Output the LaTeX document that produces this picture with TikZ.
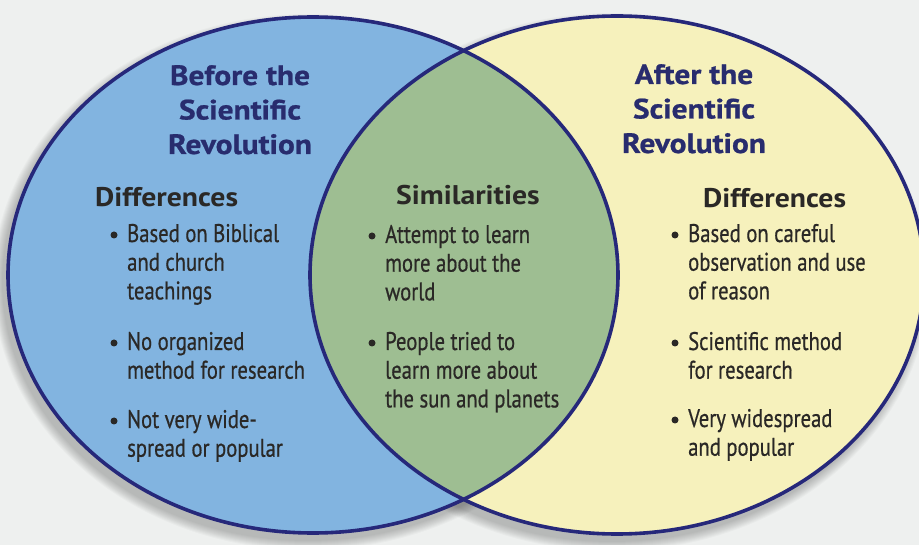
\documentclass[tikz,border=0pt]{standalone}
\usepackage{fontspec}
\setmainfont{PT Sans}
\newfontfamily\bodyfont{PT Sans}[FakeStretch=0.81, FakeBold=0.6]
\newfontfamily\headfont{PT Sans Bold}[FakeStretch=1.1]
\newfontfamily\titlefont{PT Sans Bold}[FakeStretch=1.12, FakeBold=0.8]
\definecolor{bgc}{RGB}{238,240,239}
\definecolor{lblue}{RGB}{130,180,224}
\definecolor{lyellow}{RGB}{246,241,188}
\definecolor{lgreen}{RGB}{158,190,146}
\definecolor{navy}{RGB}{38,40,122}
\definecolor{tnavy}{RGB}{40,44,110}
\definecolor{ink}{RGB}{42,40,38}
\newcommand{\leftlines}[1]{\vtop{\halign{##\hfil\cr#1\crcr}}}
\newcommand{\centerlines}[1]{\vtop{\halign{\hfil##\hfil\cr#1\crcr}}}
\tikzset{
  titletext/.style={font=\titlefont\fontsize{28}{34.5}\selectfont, text=tnavy, inner sep=0pt, anchor=base},
  headtext/.style={font=\headfont\fontsize{27}{30}\selectfont, text=ink, inner sep=0pt, anchor=base west},
  itemtext/.style={font=\bodyfont\fontsize{25.5}{28.7}\selectfont, text=ink, inner sep=0pt, anchor=base west},
  bul/.style={circle, fill=ink, minimum size=7pt, inner sep=0pt},
  outline/.style={draw=navy, line width=3.6pt}
}
\begin{document}
\begin{tikzpicture}[x=1pt,y=-1pt]
\fill[bgc] (0,0) rectangle (919,545);
\useasboundingbox (0,0) rectangle (919,545);
% soft shadow
\foreach \i in {1,...,10}{
  \fill[black, opacity=0.025] (308,282) ellipse [x radius={305pt+\i pt}, y radius={258pt+\i pt}];
  \fill[black, opacity=0.025] (612,282) ellipse [x radius={307pt+\i pt}, y radius={259pt+\i pt}];
}
\coordinate (cl) at (313,275);
\coordinate (cr) at (617,275);
\fill[lblue] (cl) ellipse [x radius=305pt, y radius=258pt];
\fill[lyellow] (cr) ellipse [x radius=307pt, y radius=259pt];
\begin{scope}
  \clip (cl) ellipse [x radius=305pt, y radius=258pt];
  \fill[lgreen] (cr) ellipse [x radius=307pt, y radius=259pt];
\end{scope}
\draw[outline] (cl) ellipse [x radius=305pt, y radius=258pt];
\draw[outline] (cr) ellipse [x radius=307pt, y radius=259pt];

% titles
\node[titletext] (tl) at (240,85) {\centerlines{Before the\cr Scientific\cr Revolution}};
\node[titletext] (tr) at (694,84) {\centerlines{After the\cr Scientific\cr Revolution}};

% headings
\node[headtext] (hl) at (95,207) {Differences};
\node[headtext] (hm) at (396,205) {Similarities};
\node[headtext] (hr) at (703,208) {Differences};

% left items
\node[itemtext] (l1) at (127,242) {\leftlines{Based on Biblical\cr and church\cr teachings}};
\node[itemtext] (l2) at (127,350) {\leftlines{No organized\cr method for research}};
\node[itemtext] (l3) at (127,428) {\leftlines{Not very wide-\cr spread or popular}};
\node[bul] (bl1) at (114,235) {};
\node[bul] (bl2) at (114,343) {};
\node[bul] (bl3) at (114,421) {};

% middle items
\node[itemtext] (m1) at (385,243) {\leftlines{Attempt to learn\cr more about the\cr world}};
\node[itemtext] (m2) at (385,350) {\leftlines{People tried to\cr learn more about\cr the sun and planets}};
\node[bul] (bm1) at (372,236) {};
\node[bul] (bm2) at (372,343) {};

% right items
\node[itemtext] (r1) at (688,242) {\leftlines{Based on careful\cr observation and use\cr of reason}};
\node[itemtext] (r2) at (688,350) {\leftlines{Scientific method\cr for research}};
\node[itemtext] (r3) at (688,427) {\leftlines{Very widespread\cr and popular}};
\node[bul] (br1) at (675,235) {};
\node[bul] (br2) at (675,343) {};
\node[bul] (br3) at (675,420) {};
\end{tikzpicture}
\end{document}
